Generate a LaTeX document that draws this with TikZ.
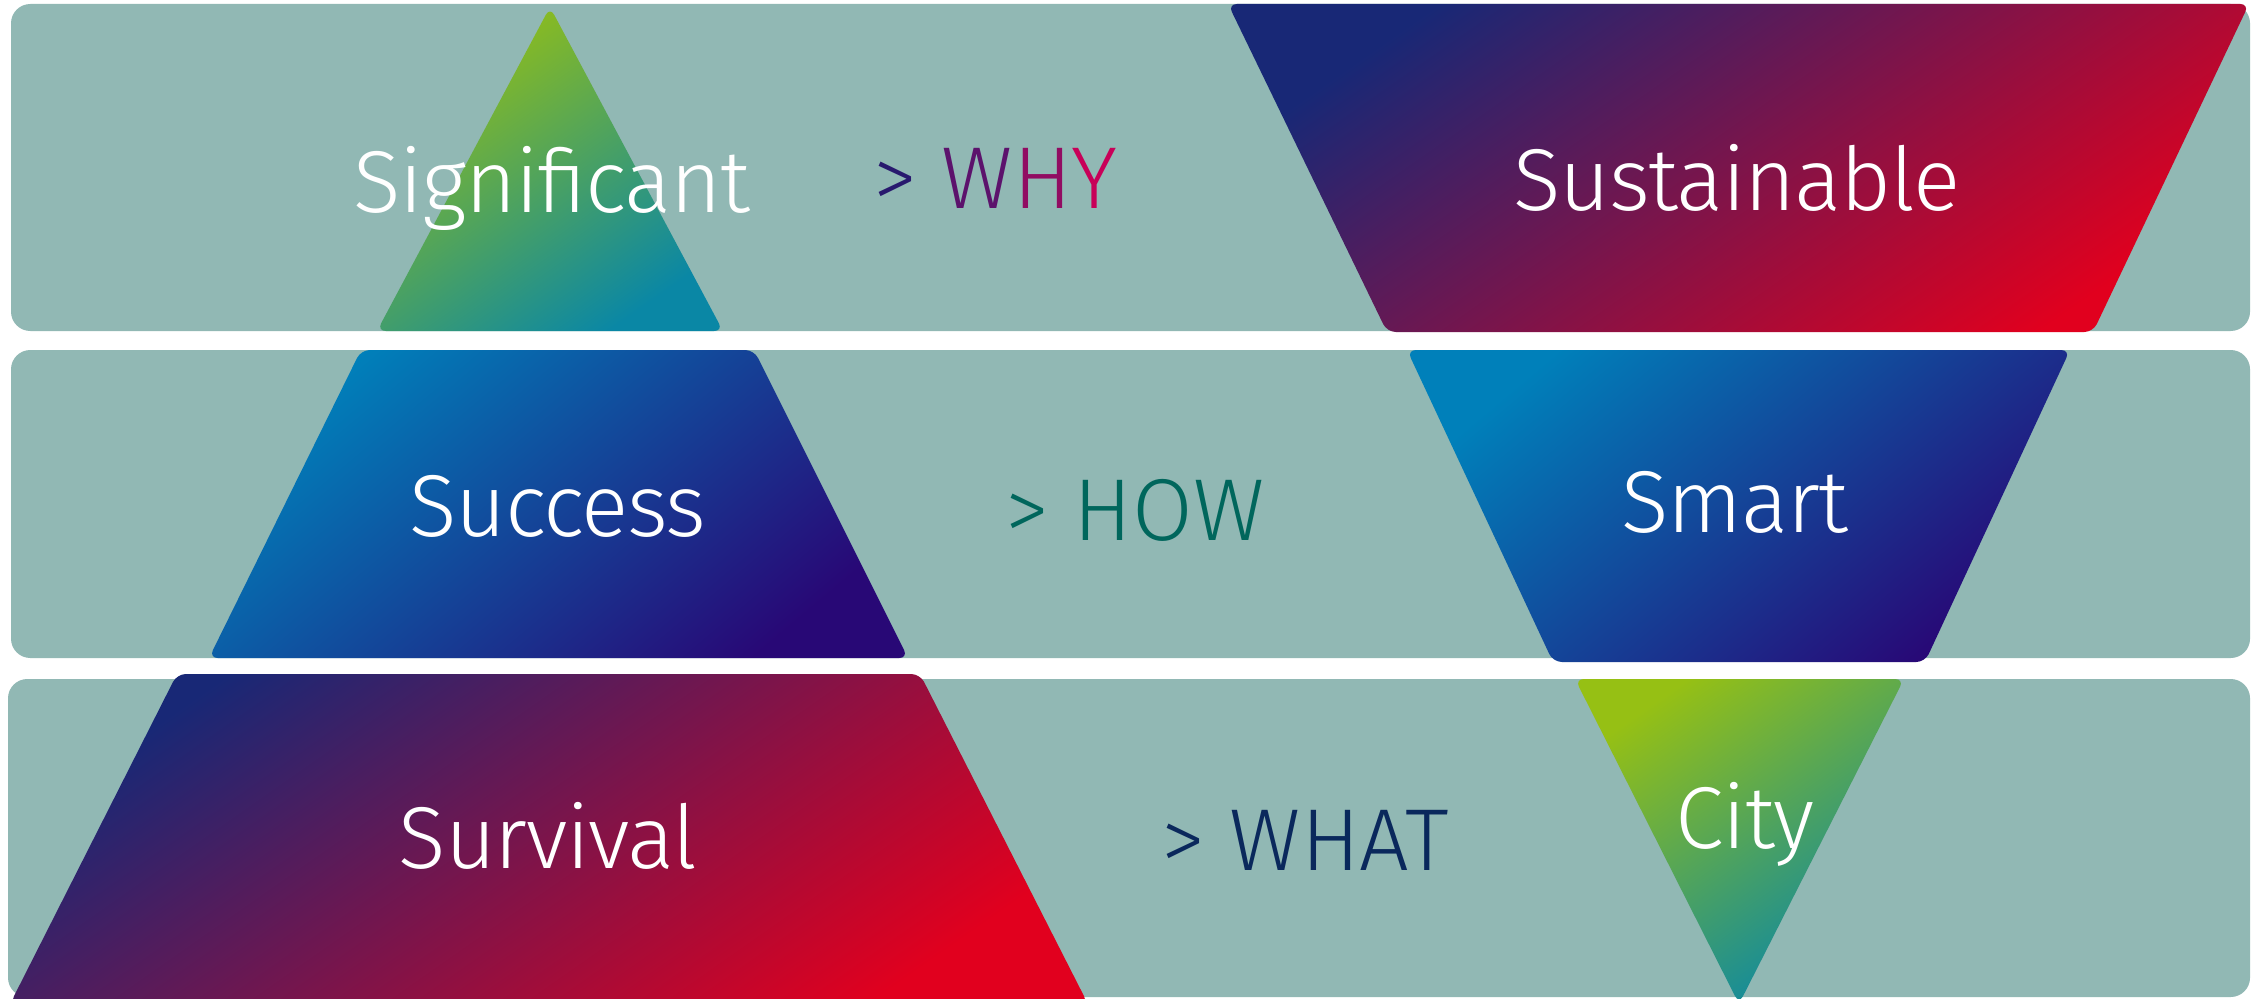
\documentclass[tikz,border=0pt]{standalone}
\usepackage{fontspec}
\setmainfont{Fira Sans Light}

\definecolor{bandgrey}{RGB}{145,184,180}
\definecolor{ericnavy}{RGB}{24,40,118}
\definecolor{ericplum}{RGB}{110,20,80}
\definecolor{ericred}{RGB}{225,0,30}
\definecolor{ericcyan}{RGB}{0,128,186}
\definecolor{ericindigo}{RGB}{40,8,118}
\definecolor{ericlime}{RGB}{150,192,20}
\definecolor{ericteal}{RGB}{10,135,165}
\definecolor{whyA}{RGB}{40,25,110}
\definecolor{whyB}{RGB}{92,18,108}
\definecolor{whyC}{RGB}{145,12,98}
\definecolor{whyD}{RGB}{200,0,88}
\definecolor{howtext}{RGB}{0,102,92}
\definecolor{whattext}{RGB}{10,40,92}

\tikzset{
  band/.style={fill=bandgrey, rounded corners=5.5pt},
  warm/.style={top color=ericnavy, middle color=ericplum, bottom color=ericred, shading angle=35, rounded corners=2.5pt},
  cool/.style={top color=ericcyan, bottom color=ericindigo, shading angle=40, rounded corners=2.5pt},
  fresh/.style={top color=ericlime, bottom color=ericteal, shading angle=35, rounded corners=2.5pt},
  word/.style={text=white, font=\fontsize{25}{30}\selectfont\addfontfeature{LetterSpace=-1.5}, anchor=base, inner sep=0pt},
  tag/.style={font=\fontsize{25}{30}\selectfont, anchor=base west, inner sep=0pt}
}

\begin{document}
\begin{tikzpicture}[x=0.1mm, y=-0.1mm]
    \path[use as bounding box, clip] (0,0) rectangle (2262,998);
    \fill[white] (0,0) rectangle (2262,998);

    \fill[band] (11,4) rectangle (2250,331);
    \fill[band] (11,350) rectangle (2250,658);
    \fill[band] (8,679) rectangle (2250,997);

    \shade[fresh] (550,7) -- (723,331) -- (377,331) -- cycle;
    \shade[warm] (1228,4) -- (2249,4) -- (2093,332) -- (1387,332) -- cycle;
    \shade[cool] (361,350) -- (754,350) -- (908,658) -- (209,658) -- cycle;
    \shade[cool] (1407,350) -- (2070,350) -- (1925,662) -- (1553,662) -- cycle;
    \shade[warm] (177,674) -- (920,674) -- (1088,1004) -- (10,1004) -- cycle;
    \shade[fresh] (1575,679) -- (1904,679) -- (1739,1004) -- cycle;

    \node[word] (significant) at (552,212) {Significant};
    \node[word] (sustainable) at (1737,211) {Sustainable};
    \node[word] (success) at (558,536) {Success};
    \node[word] (smart) at (1735,532) {Smart};
    \node[word] (survival) at (548,868) {Survival};
    \node[word] (city) at (1745,848) {City};

    \node[tag] (why) at (873,208) {{\color{whyA}>} {\color{whyB}W}{\color{whyC}H}{\color{whyD}Y}};
    \node[tag, text=howtext] (how) at (1005,540) {> HOW};
    \node[tag, text=whattext] (what) at (1161,870) {> WHAT};
\end{tikzpicture}
\end{document}
